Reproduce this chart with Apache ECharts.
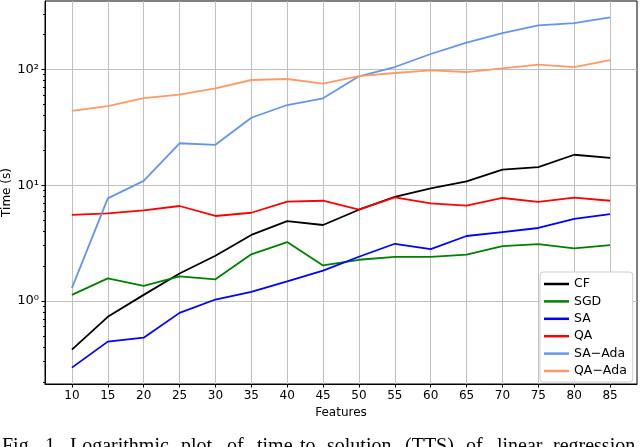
<!DOCTYPE html>
<html><head><meta charset="utf-8">
<script src="https://cdn.jsdelivr.net/npm/echarts@6/dist/echarts.min.js"></script>
<style>html,body{margin:0;padding:0;background:#fff}#c{width:640px;height:447px}</style>
</head><body><div id="c"></div>
<script>
var features = [10,15,20,25,30,35,40,45,50,55,60,65,70,75,80,85];
var cf    = [0.38,0.73,1.13,1.73,2.46,3.72,4.9,4.53,6.14,7.94,9.4,10.8,13.6,14.3,18.3,17.2];
var sgd   = [1.13,1.57,1.35,1.63,1.54,2.53,3.23,2.03,2.27,2.40,2.40,2.51,2.98,3.10,2.85,3.04];
var sa    = [0.266,0.446,0.482,0.79,1.03,1.20,1.48,1.83,2.41,3.12,2.81,3.64,3.94,4.27,5.11,5.63];
var qa    = [5.53,5.71,6.07,6.61,5.42,5.78,7.2,7.34,6.14,7.85,6.97,6.65,7.75,7.16,7.8,7.34];
var saAda = [1.29,7.7,10.9,23.0,22.3,38.2,49.2,56.2,87,104.7,135.6,170,205.7,240,251,281];
var qaAda = [43.7,48.2,56.5,60.4,68.5,80.9,82.5,75.2,87.5,93,98,94.8,102,110,104.7,120];
var seriesNames = ['CF','SGD','SA','QA','SA\u2212Ada','QA\u2212Ada'];
var seriesColors = ['#000000','#008000','#0000ff','#ff0000','#6495ed','#ff9966'];
var seriesValues = [cf, sgd, sa, qa, saAda, qaAda];
var yMajor = [1,10,100];
var yMajorLabels = {1:'10\u2070', 10:'10\u00b9', 100:'10\u00b2'};
var yMinor = [0.2,0.3,0.4,0.5,0.6,0.7,0.8,0.9,2,3,4,5,6,7,8,9,20,30,40,50,60,70,80,90,200,300];
var captionWords = ['Fig.','1.','Logarithmic','plot','of','time','to','solution','(TTS)','of','linear','regression'];
var captionX = [2,45,70,181,227,257,300,327,405,466,497,553];

var font = 'DejaVu Sans';
var chart = echarts.init(document.getElementById('c'), null, {renderer:'canvas'});
var series = seriesNames.map(function(n,i){
  return {
    name:n, type:'line', symbol:'none', xAxisIndex:0, yAxisIndex:0,
    lineStyle:{color:seriesColors[i], width:1.8}, itemStyle:{color:seriesColors[i]},
    data: features.map(function(x,j){return [x, seriesValues[i][j]];}),
    animation:false
  };
});
var graphics = captionWords.map(function(w,i){
  return {type:'text', left:captionX[i], top:437, style:{text:w, font:'20px "Liberation Serif"', fill:'#000'}};
});
chart.setOption({
  animation:false,
  backgroundColor:'#fff',
  grid:{left:45, right:3, top:1, bottom:63, outerBoundsMode:'none', containLabel:false, show:true, borderColor:'#000', borderWidth:1, backgroundColor:'transparent'},
  xAxis:{
    type:'value', min:6.25, max:88.75,
    name:'Features', nameLocation:'middle', nameGap:23,
    nameTextStyle:{fontFamily:font, fontSize:12, color:'#000'},
    axisLine:{lineStyle:{color:'#000', width:1}},
    axisTick:{customValues:features, length:3.5, lineStyle:{color:'#000'}},
    axisLabel:{customValues:features, fontFamily:font, fontSize:12, color:'#000', margin:6},
    splitLine:{show:true, lineStyle:{color:'#c0c0c0', width:1}}
  },
  yAxis:[{
    type:'log', min:0.1921, max:389,
    name:'Time (s)', nameLocation:'middle', nameGap:32, nameMoveOverlap:false,
    nameTextStyle:{fontFamily:font, fontSize:12, color:'#000'},
    axisLine:{show:true, lineStyle:{color:'#000', width:1}},
    axisTick:{customValues:yMajor, length:3.5, lineStyle:{color:'#000'}},
    axisLabel:{customValues:yMajor, margin:6, fontFamily:font, fontSize:13, color:'#000',
      formatter:function(v){ return yMajorLabels[Math.round(v)] || ''; }
    },
    splitLine:{show:true, lineStyle:{color:'#c0c0c0', width:1}}
  },{
    type:'log', min:0.1921, max:389, position:'left',
    axisLine:{show:false},
    axisTick:{show:true, customValues:yMinor, length:2, lineStyle:{color:'#000'}},
    axisLabel:{show:false},
    splitLine:{show:false}
  }],
  legend:{
    orient:'vertical', left:540, top:272, backgroundColor:'#fff', borderColor:'#cccccc', borderWidth:1, borderRadius:3,
    padding:[5,6,4,4], itemGap:3.4, itemWidth:25, itemHeight:2.5, icon:'rect',
    textStyle:{fontFamily:font, fontSize:12.5, color:'#000', lineHeight:14},
    data:seriesNames
  },
  series: series,
  graphic: graphics
});
</script></body></html>
